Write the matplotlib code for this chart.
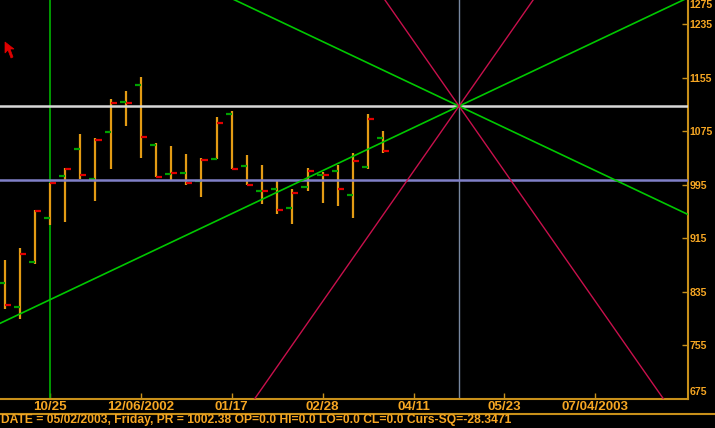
import numpy as np
import pandas as pd
import matplotlib
matplotlib.use("Agg")
import matplotlib.pyplot as plt
import matplotlib.dates as mdates
from matplotlib.patches import Polygon
from matplotlib.lines import Line2D

# barras semanales (viernes)
fechas = pd.date_range("2002-10-04", periods=26, freq="7D")
apertura = [849, 813, 879, 946, 1008, 1049, 1004, 1074, 1119, 1144, 1055, 1011, 1013,
            1000, 1034, 1101, 1023, 986, 988, 961, 991, 1010, 1016, 979, 1022, 1065]
maximo = [883, 900, 958, 998, 1020, 1071, 1065, 1123, 1135, 1156, 1058, 1053, 1041,
          1035, 1096, 1105, 1040, 1025, 1000, 989, 1020, 1014, 1025, 1043, 1101, 1076]
minimo = [810, 795, 876, 935, 940, 1004, 971, 1019, 1083, 1035, 1007, 1000, 995,
          977, 1034, 1019, 994, 967, 952, 937, 986, 968, 964, 946, 1019, 1043]
cierre = [816, 891, 956, 997, 1019, 1010, 1062, 1117, 1117, 1067, 1007, 1013, 998,
          1032, 1088, 1019, 995, 985, 958, 982, 1016, 1010, 988, 1031, 1093, 1046]

# lineas de referencia
fecha_vertical = pd.Timestamp("2002-10-25")
fecha_centro = pd.Timestamp("2003-05-02")
precio_centro = 1112.5
precio_pr = 1002.38
pendiente_verde = 1.53   # precio por dia
pendiente_roja = 4.63

ticks_x = pd.to_datetime(["2002-10-25", "2002-12-06", "2003-01-17", "2003-02-28",
                          "2003-04-11", "2003-05-23", "2003-07-04"])
etiquetas_x = ["10/25", "12/06/2002", "01/17", "02/28", "04/11", "05/23", "07/04/2003"]
ticks_y = [755, 835, 915, 995, 1075, 1155, 1235]

naranja = "#F5A623"
naranja_eje = "#C8901A"
fuente = ["Liberation Sans Narrow", "Liberation Sans", "DejaVu Sans"]

fig = plt.figure(figsize=(7.15, 4.28), dpi=100, facecolor="black")
ax = fig.add_axes([0, 29 / 428, 688 / 715, 399 / 428], facecolor="black")

xv = mdates.date2num(fecha_vertical)
xc = mdates.date2num(fecha_centro)
x0, x1 = xv - 23.1, xv + 294.8
ax.set_xlim(x0, x1)
ax.set_ylim(675, 1271)

# barras OHLC
xs = mdates.date2num(fechas)
ax.vlines(xs, minimo, maximo, color="#E39B14", lw=1.6, zorder=3)
ax.hlines(apertura, xs - 2.8, xs, color="#00A000", lw=1.6, zorder=3)
ax.hlines(cierre, xs, xs + 2.8, color="#E00000", lw=1.6, zorder=3)

# horizontales y verticales
ax.axhline(precio_centro, color="#D8D8D8", lw=1.8, zorder=4)
ax.axhline(precio_pr, color="#8080C8", lw=1.8, zorder=4)
ax.axvline(xv, color="#00B400", lw=1.2, zorder=2)
ax.axvline(xc, color="#7888A0", lw=1.0, zorder=2)

# abanico desde el centro
xx = np.array([x0, x1])
for s in (pendiente_verde, -pendiente_verde):
    ax.plot(xx, precio_centro + s * (xx - xc), color="#00C800", lw=1.2, zorder=5)
for s in (pendiente_roja, -pendiente_roja):
    ax.plot(xx, precio_centro + s * (xx - xc), color="#C8104C", lw=1.0, zorder=5)

# ejes
for lado in ("left", "top"):
    ax.spines[lado].set_visible(False)
for lado in ("right", "bottom"):
    ax.spines[lado].set_color(naranja_eje)
    ax.spines[lado].set_linewidth(1.5)

ax.yaxis.tick_right()
ax.set_yticks(ticks_y)
ax.set_yticklabels([str(v) for v in ticks_y])
ax.tick_params(axis="y", direction="in", length=4, width=1, color=naranja_eje,
               labelcolor=naranja, labelsize=7.6, pad=1)
ax.set_xticks(mdates.date2num(ticks_x))
ax.set_xticklabels(etiquetas_x)
ax.tick_params(axis="x", direction="in", length=4, width=1, color=naranja_eje,
               labelcolor=naranja, labelsize=9.6, pad=1.5)
for lab in ax.get_xticklabels() + ax.get_yticklabels():
    lab.set_fontweight("bold")
    lab.set_family(fuente)

ax.text(1.002, 1.0, "1275", transform=ax.transAxes, ha="left", va="top", color=naranja,
        fontsize=7.6, fontweight="bold", family=fuente, clip_on=False)
ax.text(1.002, 0.018, "675", transform=ax.transAxes, ha="left", va="center", color=naranja,
        fontsize=7.6, fontweight="bold", family=fuente, clip_on=False)

# barra de estado
fig.add_artist(Line2D([0, 1], [1 - 414 / 428] * 2, color=naranja_eje, lw=1.5))
fig.text(1 / 715, 1 - 420.5 / 428, "DATE = 05/02/2003, Friday, PR = 1002.38 OP=0.0 HI=0.0 LO=0.0 "
         "CL=0.0 Curs-SQ=-28.3471", ha="left", va="center", color=naranja,
         fontsize=8.7, fontweight="bold", family=fuente)

# cursor
flecha = [(5, 42), (5, 53), (8, 50), (11, 58), (13, 57), (10, 49), (14, 49)]
fig.add_artist(Polygon([(x / 715, 1 - y / 428) for x, y in flecha], closed=True,
                       facecolor="#E00000", edgecolor="#E00000", lw=0.5,
                       transform=fig.transFigure))

fig.savefig("out.png", dpi=100, facecolor="black")
